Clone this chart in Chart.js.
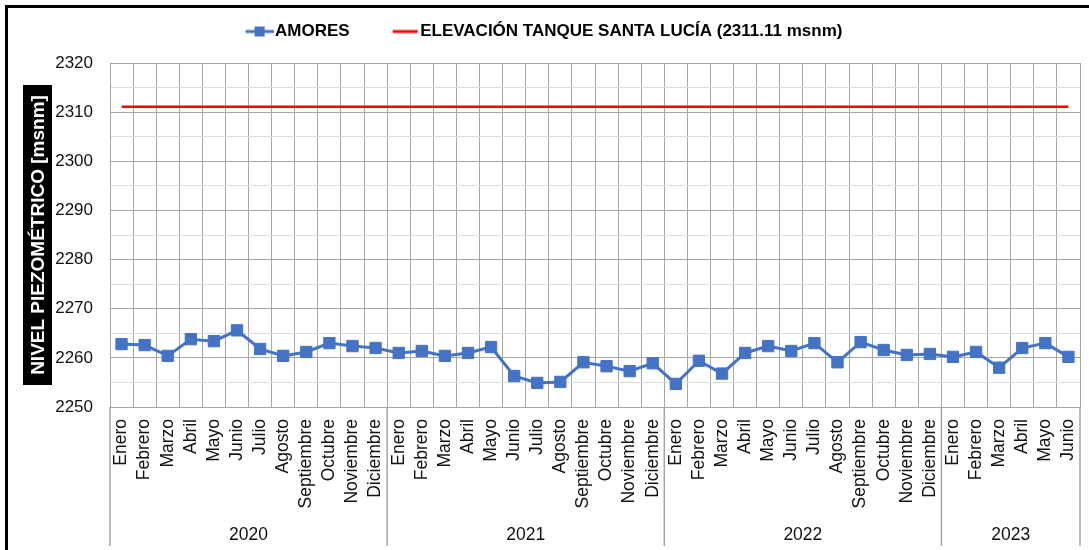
<!DOCTYPE html>
<html><head><meta charset="utf-8">
<script src="https://cdn.jsdelivr.net/npm/chart.js@4.4.0/dist/chart.umd.min.js"></script>
<style>html,body{margin:0;padding:0;background:#fff}#wrap{position:relative;width:1089px;height:550px}canvas{display:block}</style>
</head><body><div id="wrap"><canvas id="c" width="1089" height="550"></canvas></div>
<script>
const months = ['Enero','Febrero','Marzo','Abril','Mayo','Junio','Julio','Agosto','Septiembre','Octubre','Noviembre','Diciembre',
  'Enero','Febrero','Marzo','Abril','Mayo','Junio','Julio','Agosto','Septiembre','Octubre','Noviembre','Diciembre',
  'Enero','Febrero','Marzo','Abril','Mayo','Junio','Julio','Agosto','Septiembre','Octubre','Noviembre','Diciembre',
  'Enero','Febrero','Marzo','Abril','Mayo','Junio'];
const years = ['2020','2021','2022','2023'];
const monthsPerYear = [12, 12, 12, 6];
const amores = [
  2262.8, 2262.6, 2260.4, 2263.8, 2263.4, 2265.6, 2261.8, 2260.4, 2261.2, 2263.0, 2262.4, 2262.0,
  2261.0, 2261.4, 2260.4, 2261.0, 2262.2, 2256.3, 2254.9, 2255.1, 2259.1, 2258.3, 2257.3, 2258.9,
  2254.7, 2259.4, 2256.8, 2261.0, 2262.4, 2261.4, 2263.0, 2259.1, 2263.2, 2261.6, 2260.6, 2260.8,
  2260.2, 2261.2, 2258.0, 2262.0, 2263.0, 2260.2];
const tanqueElevacion = 2311.11;
const seriesNames = ['AMORES', 'ELEVACIÓN TANQUE SANTA LUCÍA (2311.11 msnm)'];
const yTitle = 'NIVEL PIEZOMÉTRICO [msnm]';
const yMin = 2250, yMax = 2320, yMajor = 10, yMinor = 5;

const FONT = "'Liberation Sans', Arial, sans-serif";
const BLUE = '#4472C4', RED = '#FF0000', TXT = '#111111';
const PSW = 27;

function legendImg(kind) {
  const c = document.createElement('canvas');
  const w = PSW + 14;
  c.width = w; c.height = 14;
  const g = c.getContext('2d');
  if (kind === 'blue') {
    g.strokeStyle = BLUE; g.lineWidth = 3;
    g.beginPath(); g.moveTo(w - 28, 7); g.lineTo(w, 7); g.stroke();
    g.fillStyle = BLUE; g.fillRect(w - 19, 2, 10, 10);
  } else {
    g.strokeStyle = RED; g.lineWidth = 3;
    g.beginPath(); g.moveTo(w - 26, 7); g.lineTo(w - 1, 7); g.stroke();
  }
  return c;
}
const legendImages = [legendImg('blue'), legendImg('red')];

const spacer = {
  id: 'spacer',
  beforeInit(chart) {
    const box = {
      position: 'top', weight: 500, fullSize: true, options: {},
      width: 0, height: 0, top: 0, left: 0, right: 0, bottom: 0,
      update(maxWidth) { this.width = maxWidth; this.height = 13; },
      isHorizontal() { return true; },
      getPadding() { return { top: 0, left: 0, right: 0, bottom: 0 }; },
      draw() {}
    };
    Chart.layouts.addBox(chart, box);
  }
};

const extras = {
  id: 'extras',
  beforeDraw(chart) {
    const ctx = chart.ctx;
    ctx.save(); ctx.fillStyle = '#fff'; ctx.fillRect(0, 0, chart.width, chart.height); ctx.restore();
  },
  afterDraw(chart) {
    const ctx = chart.ctx, ca = chart.chartArea, xs = chart.scales.x;
    ctx.save();
    ctx.fillStyle = '#000';
    ctx.fillRect(5, 5, 3, chart.height);
    ctx.fillRect(5, 5, chart.width, 3);
    ctx.translate(37.5, (ca.top + ca.bottom) / 2);
    ctx.rotate(-Math.PI / 2);
    ctx.font = "bold 19px " + FONT;
    ctx.fillStyle = '#000';
    ctx.fillRect(-150, -14.5, 300, 29);
    ctx.fillStyle = '#fff';
    ctx.textAlign = 'center'; ctx.textBaseline = 'middle';
    ctx.fillText(yTitle, 0, 1);
    ctx.setTransform(1, 0, 0, 1, 0, 0);
    const step = xs.getPixelForValue(1) - xs.getPixelForValue(0);
    ctx.strokeStyle = '#a6a6a6'; ctx.lineWidth = 1.5;
    ctx.font = "17.5px " + FONT; ctx.fillStyle = TXT;
    ctx.textAlign = 'center'; ctx.textBaseline = 'middle';
    let idx = 0;
    const bx = (i) => xs.getPixelForValue(i) - step / 2;
    ctx.beginPath(); ctx.moveTo(bx(0), ca.bottom); ctx.lineTo(bx(0), 546); ctx.stroke();
    years.forEach((y, k) => {
      const a = bx(idx), b = bx(idx + monthsPerYear[k]);
      ctx.beginPath(); ctx.moveTo(b, ca.bottom); ctx.lineTo(b, 546); ctx.stroke();
      ctx.fillText(y, (a + b) / 2, 535);
      idx += monthsPerYear[k];
    });
    ctx.restore();
  }
};

new Chart(document.getElementById('c'), {
  type: 'line',
  data: {
    labels: months,
    datasets: [{
      label: seriesNames[0], data: amores,
      borderColor: BLUE, backgroundColor: BLUE, borderWidth: 3,
      pointStyle: 'rect', pointRadius: 8, pointBorderWidth: 1, pointBackgroundColor: BLUE, pointBorderColor: BLUE,
      tension: 0, xAxisID: 'x'
    }, {
      label: seriesNames[1],
      data: [{x: 0, y: tanqueElevacion}, {x: months.length - 1, y: tanqueElevacion}],
      borderColor: RED, backgroundColor: RED, borderWidth: 2.5, pointRadius: 0, xAxisID: 'xl'
    }]
  },
  options: {
    responsive: false, animation: false, devicePixelRatio: 1,
    layout: { padding: { top: -12, right: 7, left: 0, bottom: 0 } },
    plugins: {
      tooltip: { enabled: false },
      legend: {
        position: 'top',
        labels: {
          usePointStyle: true, pointStyleWidth: PSW, padding: 35,
          font: { family: FONT, size: 17, weight: 'bold' }, color: '#000',
          generateLabels(chart) {
            return chart.data.datasets.map((ds, i) => ({
              text: ds.label, fillStyle: ds.borderColor, strokeStyle: ds.borderColor,
              pointStyle: legendImages[i], datasetIndex: i, hidden: false, lineWidth: 0, fontColor: '#000'
            }));
          }
        }
      }
    },
    scales: {
      x: {
        type: 'category', offset: true,
        grid: { offset: true, color: '#a6a6a6', drawTicks: false },
        border: { color: '#a6a6a6' },
        ticks: { autoSkip: false, minRotation: 90, maxRotation: 90, padding: 12, color: TXT,
          font: { family: FONT, size: 17.5 } },
        afterFit(s) { s.height = 143; s.paddingLeft = 0; s.paddingRight = 7; }
      },
      xl: { type: 'linear', display: false, min: -0.5, max: months.length - 0.5 },
      y: {
        min: yMin, max: yMax,
        grid: { drawTicks: false, color: (c) => (c.tick && c.tick.value % yMajor === 0) ? '#a6a6a6' : '#dcdcdc' },
        border: { color: '#a6a6a6' },
        ticks: { stepSize: yMinor, padding: 17, color: TXT, font: { family: FONT, size: 17 },
          callback: (v) => (v % yMajor === 0 ? String(v) : '') },
        afterFit(s) { s.width = 110; }
      }
    }
  },
  plugins: [spacer, extras]
});
</script>
</body></html>
